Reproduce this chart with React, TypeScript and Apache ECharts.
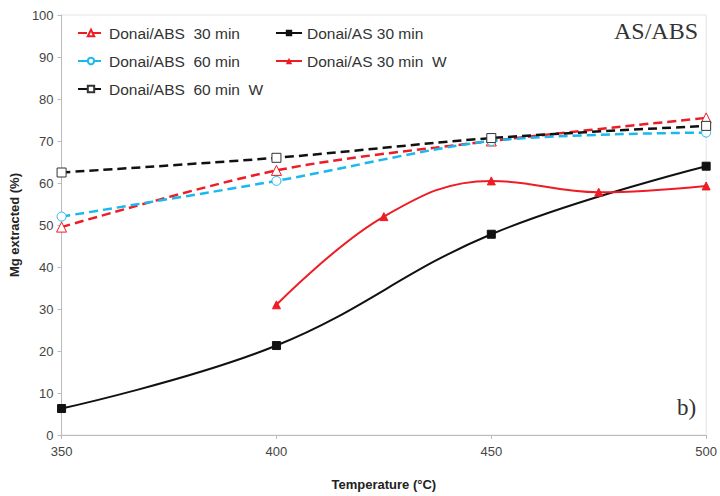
import React, { useEffect, useRef } from "react";
import * as echarts from "echarts";

const temps = [350, 400, 450, 500];
const tempsW = [400, 425, 450, 475, 500];
const absThirty = [49.5, 63, 70, 75.5];
const absSixty = [52, 60.5, 70, 72];
const absSixtyW = [62.5, 66, 70.7, 73.6];
const asThirty = [6.3, 21.3, 47.8, 64];
const asThirtyW = [31, 52, 60.5, 57.8, 59.3];
const yTicks = [0, 10, 20, 30, 40, 50, 60, 70, 80, 90, 100];

const names = [
  "Donai/ABS  30 min",
  "Donai/AS 30 min",
  "Donai/ABS  60 min",
  "Donai/AS 30 min  W",
  "Donai/ABS  60 min  W",
];

const pair = (xs: number[], ys: number[]) => xs.map((x, i) => [x, ys[i]]);

export default function App() {
  const ref = useRef<HTMLDivElement>(null);
  useEffect(() => {
    const chart = echarts.init(ref.current!, null, { renderer: "svg" });
    const legendPos = [
      [77, 25],
      [275, 25],
      [77, 53],
      [275, 53],
      [77, 81],
    ];
    const legendText = { fontFamily: "Liberation Sans", fontSize: 15.5, color: "#333" };
    chart.setOption({
      animation: false,
      backgroundColor: "#fff",
      grid: { left: 59, right: 12, top: 15, bottom: 56, show: true, borderColor: "#e4e4e4", borderWidth: 1 },
      legend: names.map((n, i) => ({
        data: [n],
        left: legendPos[i][0],
        top: legendPos[i][1],
        itemWidth: 26,
        itemHeight: 8,
        itemGap: 2,
        padding: 0,
        textStyle: legendText,
      })),
      graphic: [
        { type: "text", right: 22, top: 19, style: { text: "AS/ABS", font: "24px 'Liberation Serif'", fill: "#333" } },
        { type: "text", left: 677, top: 396, style: { text: "b)", font: "23px 'Liberation Serif'", fill: "#333" } },
      ],
      xAxis: {
        type: "value",
        min: 350,
        max: 500,
        interval: 50,
        name: "Temperature (°C)",
        nameLocation: "middle",
        nameGap: 43,
        nameTextStyle: { fontFamily: "Liberation Sans", fontWeight: "bold", fontSize: 13, color: "#222" },
        axisLine: { lineStyle: { color: "#bbb" } },
        axisTick: { show: true, lineStyle: { color: "#bbb" }, length: 4 },
        axisLabel: { color: "#444", fontFamily: "Liberation Sans", fontSize: 13, margin: 10 },
        splitLine: { show: false },
      },
      yAxis: {
        type: "value",
        min: 0,
        max: 100,
        interval: 10,
        name: "Mg extracted (%)",
        nameLocation: "middle",
        nameGap: 38,
        nameTextStyle: { fontFamily: "Liberation Sans", fontWeight: "bold", fontSize: 13, color: "#222" },
        axisLine: { show: true, lineStyle: { color: "#bbb" } },
        axisTick: { show: true, lineStyle: { color: "#bbb" }, length: 4 },
        axisLabel: {
          color: "#444",
          fontFamily: "Liberation Sans",
          fontSize: 13,
          margin: 8,
          formatter: (v: number) => (yTicks.includes(v) ? String(v) : ""),
        },
        splitLine: { show: false },
      },
      series: [
        {
          name: names[0],
          type: "line",
          data: pair(temps, absThirty),
          smooth: 0.3,
          symbol: "triangle",
          symbolSize: 10,
          lineStyle: { color: "#ee1c25", width: 2.5, type: [9, 5] },
          itemStyle: { color: "#fff", borderColor: "#ee1c25", borderWidth: 1 },
          z: 3,
        },
        {
          name: names[1],
          type: "line",
          data: pair(temps, asThirty),
          smooth: 0.4,
          symbol: "rect",
          symbolSize: 8,
          lineStyle: { color: "#111", width: 2 },
          itemStyle: { color: "#111", borderColor: "#111" },
        },
        {
          name: names[2],
          type: "line",
          data: pair(temps, absSixty),
          smooth: 0.3,
          symbol: "circle",
          symbolSize: 9,
          lineStyle: { color: "#1ab8ef", width: 2.5, type: [9, 5] },
          itemStyle: { color: "#fff", borderColor: "#1ab8ef", borderWidth: 1 },
        },
        {
          name: names[3],
          type: "line",
          data: pair(tempsW, asThirtyW),
          smooth: 0.4,
          symbol: "triangle",
          symbolSize: 8,
          lineStyle: { color: "#ee1c25", width: 2 },
          itemStyle: { color: "#ee1c25", borderColor: "#ee1c25" },
        },
        {
          name: names[4],
          type: "line",
          data: pair(temps, absSixtyW),
          smooth: 0.3,
          symbol: "rect",
          symbolSize: 9,
          lineStyle: { color: "#111", width: 2.5, type: [9, 5] },
          itemStyle: { color: "#fff", borderColor: "#333", borderWidth: 1 },
        },
      ],
    });
    return () => chart.dispose();
  }, []);
  return <div ref={ref} style={{ width: 720, height: 496, position: "absolute", left: 0, top: 0 }} />;
}
